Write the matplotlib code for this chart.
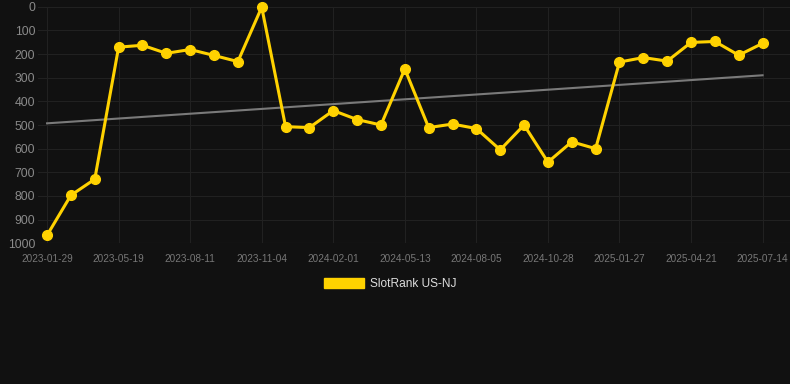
import matplotlib.pyplot as plt
import numpy as np
from matplotlib.patches import Patch

plt.rcParams['font.family'] = ['Liberation Sans', 'DejaVu Sans']

# date di riferimento (asse categoriale) e posizioni in classifica
dates = [
    "2023-01-29", "2023-03-07", "2023-04-12", "2023-05-19", "2023-06-15", "2023-07-13",
    "2023-08-11", "2023-09-07", "2023-10-06", "2023-11-04", "2023-12-03", "2024-01-02",
    "2024-02-01", "2024-03-05", "2024-04-09", "2024-05-13", "2024-06-09", "2024-07-08",
    "2024-08-05", "2024-09-02", "2024-09-30", "2024-10-28", "2024-11-27", "2024-12-28",
    "2025-01-27", "2025-02-24", "2025-03-24", "2025-04-21", "2025-05-19", "2025-06-16",
    "2025-07-14",
]
ranks = [966, 797, 729, 171, 163, 197, 181, 206, 232, 2,
         507, 511, 439, 477, 500, 263, 511, 496, 515, 605,
         500, 657, 571, 600, 234, 215, 230, 151, 147, 205, 155]
series_name = "SlotRank US-NJ"

bg = "#111111"
yellow = "#FFD200"

fig = plt.figure(figsize=(7.9, 3.84), dpi=100, facecolor=bg)
ax = fig.add_axes([38 / 790, 1 - 243.3 / 384, 752 / 790, (243.3 - 6.7) / 384])
ax.set_facecolor(bg)

x = np.arange(len(ranks))

# linea di tendenza (regressione lineare)
k, q = np.polyfit(x, ranks, 1)
ax.plot(x, k * x + q, color="#7a7a7a", linewidth=1.5, zorder=2)

ax.plot(x, ranks, color=yellow, linewidth=2.2, marker="o", markersize=7,
        clip_on=False, zorder=3)

ax.set_ylim(1000, 0)
ax.set_xlim(-0.38, 31.15)
ax.set_yticks(np.arange(0, 1001, 100))
ax.set_xticks(x[::3])
ax.set_xticklabels(dates[::3])

ax.grid(True, color="#212121", linewidth=0.8)
for s in ax.spines.values():
    s.set_visible(False)
ax.axhline(1000, color="#303030", linewidth=0.8, zorder=1)

ax.tick_params(axis="y", length=0, pad=2, labelsize=8.8, labelcolor="#8a8a8a")
ax.tick_params(axis="x", length=0, pad=8, labelsize=7.2, labelcolor="#777777")

fig.legend(handles=[Patch(facecolor=yellow, edgecolor=yellow, label=series_name)],
           loc="center", bbox_to_anchor=(0.494, 0.26), frameon=False,
           fontsize=8.6, labelcolor="#dddddd", handlelength=3.3, handleheight=0.9,
           handletextpad=0.5)

plt.savefig("out.png", dpi=100, facecolor=bg)
